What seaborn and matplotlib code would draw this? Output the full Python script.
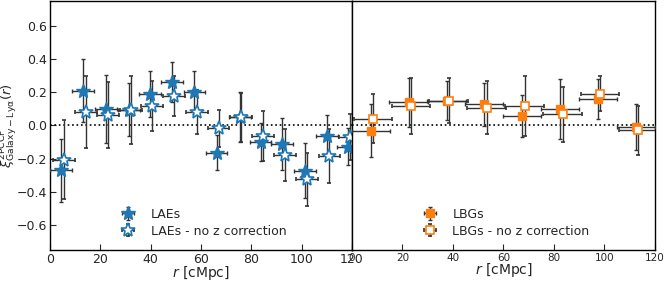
import numpy as np
import matplotlib
matplotlib.use("Agg")
import matplotlib.pyplot as plt
import seaborn as sns

# LAE cross-correlation (left panel)
lae_r = [4.4, 13.2, 22.2, 31.4, 39.8, 48.4, 57.4, 66.2, 75.4, 83.7, 92.3, 101.3, 110.1, 118.4]
lae_xi = [-0.27, 0.21, 0.10, 0.095, 0.19, 0.26, 0.20, -0.165, 0.052, -0.098, -0.112, -0.272, -0.064, -0.128]
lae_err = [0.19, 0.19, 0.205, 0.16, 0.14, 0.12, 0.13, 0.105, 0.15, 0.114, 0.157, 0.165, 0.126, 0.11]
lae_nz_r = [5.5, 14.2, 23.1, 32.2, 40.6, 49.4, 58.3, 67.0, 75.8, 84.7, 93.3, 102.2, 111.0, 119.3]
lae_nz_xi = [-0.205, 0.082, 0.062, 0.095, 0.116, 0.176, 0.082, -0.018, 0.048, -0.062, -0.178, -0.324, -0.184, -0.068]
lae_nz_err = [0.24, 0.215, 0.20, 0.205, 0.15, 0.12, 0.134, 0.11, 0.15, 0.15, 0.155, 0.16, 0.165, 0.14]
lae_xerr = 4.3

# LBG cross-correlation (right panel)
lbg_r = [7.5, 22.4, 37.5, 52.4, 67.3, 82.4, 97.4, 112.5]
lbg_xi = [-0.032, 0.14, 0.15, 0.128, 0.058, 0.098, 0.16, -0.008]
lbg_err = [0.16, 0.148, 0.117, 0.13, 0.128, 0.18, 0.122, 0.14]
lbg_nz_r = [8.4, 23.4, 38.3, 53.3, 68.4, 83.4, 98.3, 113.4]
lbg_nz_xi = [0.04, 0.116, 0.15, 0.108, 0.116, 0.066, 0.192, -0.028]
lbg_nz_err = [0.148, 0.17, 0.135, 0.157, 0.18, 0.165, 0.105, 0.147]
lbg_xerr = 7.6

sns.set_style("ticks")
plt.rcParams["font.family"] = ["DejaVu Sans"]

blue = sns.color_palette("tab10")[0]
orange = sns.color_palette("tab10")[1]

fig = plt.figure(figsize=(6.64, 2.81), dpi=100)
ax1 = fig.add_axes([0.0753, 0.11, 0.4548, 0.887])
ax2 = fig.add_axes([0.5301, 0.11, 0.4563, 0.887], sharey=ax1)

eb = dict(ls="none", ecolor="0.2", elinewidth=1.0, capsize=1.5, capthick=1)

ax1.errorbar(lae_r, lae_xi, yerr=lae_err, xerr=lae_xerr, marker="*", ms=10,
             color=blue, mec=blue, label="LAEs", zorder=3, **eb)
ax1.errorbar(lae_nz_r, lae_nz_xi, yerr=lae_nz_err, xerr=lae_xerr, marker="*", ms=10,
             mfc="white", mec=blue, mew=1.2, color=blue,
             label="LAEs - no z correction", zorder=3, **eb)

ax2.errorbar(lbg_r, lbg_xi, yerr=lbg_err, xerr=lbg_xerr, marker="s", ms=6,
             color=orange, mec=orange, label="LBGs", zorder=3, **eb)
ax2.errorbar(lbg_nz_r, lbg_nz_xi, yerr=lbg_nz_err, xerr=lbg_xerr, marker="s", ms=6,
             mfc="white", mec=orange, mew=1.2, color=orange,
             label="LBGs - no z correction", zorder=3, **eb)

for ax in (ax1, ax2):
    ax.axhline(0, color="k", ls=":", lw=1.2, zorder=1)
    ax.set_xlim(0, 120)
    ax.set_xticks([0, 20, 40, 60, 80, 100, 120])
    ax.set_xlabel(r"$r$ [cMpc]", fontsize=10, labelpad=-1)
    for s in ax.spines.values():
        s.set_linewidth(1.0)
        s.set_color("k")
    ax.legend(loc="lower center", frameon=False, fontsize=9,
              handletextpad=0.8, borderaxespad=0.6, labelspacing=0.3)

ax1.set_ylim(-0.75, 0.75)
ax1.set_yticks([-0.6, -0.4, -0.2, 0.0, 0.2, 0.4, 0.6])
ax1.tick_params(direction="in", labelsize=9, length=4, pad=2)
ax1.set_ylabel(r"$\xi^{\rm 2PCCF}_{\rm Galaxy-Ly\alpha}(r)$", fontsize=9.5, labelpad=-2)

ax2.tick_params(axis="x", direction="in", labelsize=7.5, length=4, pad=2)
ax2.tick_params(axis="y", left=False, labelleft=False)

fig.savefig("out.png", dpi=100)
